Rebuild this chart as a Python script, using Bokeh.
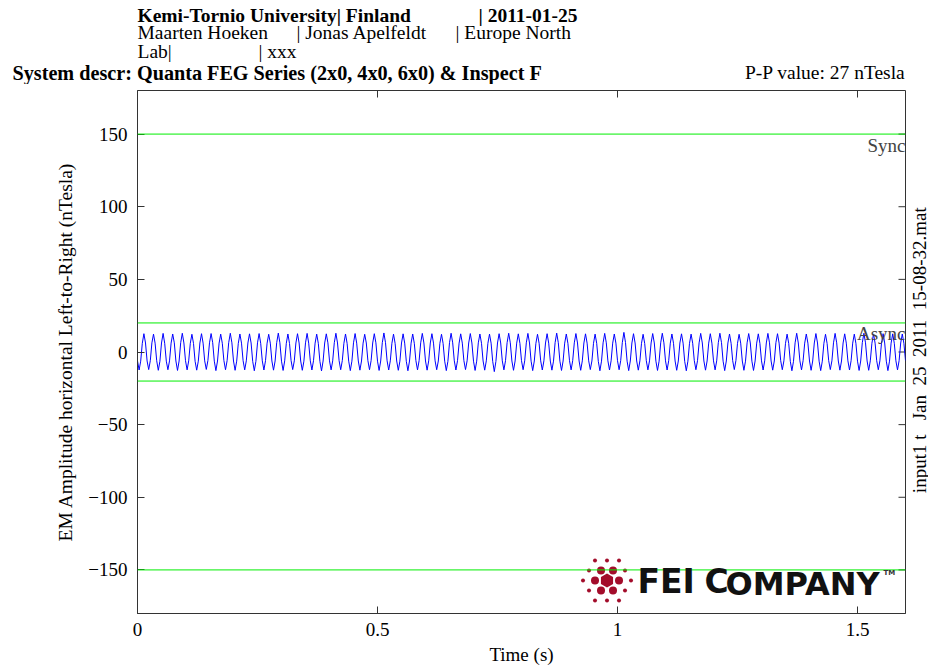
import numpy as np
from bokeh.plotting import figure
from bokeh.models import Range1d, Span, Label, FixedTicker
from bokeh.layouts import column, row
from bokeh.embed import file_html
from bokeh.resources import INLINE

# ---------------- data ----------------
fs = 300  # samples per second
signal = [
    -6.1,-12.4,-6.3,6.0,12.6,6.2, -6.2,-12.1,-6.0,6.3,12.3,6.1, -6.0,-12.6,-6.4,6.2,12.8,6.0, -6.3,-12.2,-6.1,6.1,12.4,6.3,
    -6.2,-12.7,-6.2,6.4,12.9,6.2, -6.0,-12.3,-6.1,6.0,12.2,5.9, -6.4,-12.5,-6.3,6.2,12.6,6.1, -6.1,-12.0,-5.9,6.3,12.7,6.4,
    -6.3,-12.8,-6.2,6.1,12.3,6.0, -5.9,-12.2,-6.0,6.4,12.9,6.3, -6.2,-12.6,-6.3,6.0,12.4,6.1, -6.0,-12.3,-6.1,6.2,12.5,6.2,
    -6.4,-12.9,-6.4,6.3,12.7,6.0, -6.1,-12.4,-6.0,6.1,12.2,6.1, -6.2,-12.5,-6.2,6.4,13.0,6.3, -6.3,-12.7,-6.1,6.0,12.4,5.9,
    -6.0,-12.1,-6.1,6.2,12.6,6.2, -6.2,-12.6,-6.3,6.3,12.8,6.1, -6.1,-12.4,-6.0,6.1,12.3,6.0, -6.4,-13.0,-6.2,6.2,12.5,6.3,
    -6.1,-12.3,-6.1,6.4,12.9,6.2, -6.0,-12.2,-5.9,6.0,12.4,6.0, -6.3,-12.8,-6.3,6.3,12.7,6.1, -6.2,-12.5,-6.2,6.1,12.2,6.2,
    -6.0,-12.2,-6.0,6.2,12.6,6.3, -6.3,-12.7,-6.2,6.4,13.1,6.4, -6.1,-12.4,-6.1,6.0,12.3,6.0, -6.2,-12.6,-6.3,6.2,12.5,6.1,
    -6.4,-12.9,-6.2,6.1,12.4,6.0, -6.0,-12.3,-6.0,6.3,12.8,6.2, -6.2,-12.5,-6.1,6.2,12.6,6.1, -6.1,-12.2,-6.2,6.0,12.2,5.9,
    -6.3,-12.8,-6.4,6.4,12.9,6.3, -6.1,-12.4,-6.0,6.1,12.5,6.1, -6.0,-12.1,-6.1,6.2,12.7,6.2, -6.3,-12.7,-6.3,6.3,12.4,6.0,
    -6.2,-12.5,-6.1,6.0,12.3,6.1, -6.4,-13.5,-6.5,6.2,12.6,6.2, -6.1,-12.3,-6.0,6.4,12.9,6.3, -6.2,-12.6,-6.2,6.1,12.5,6.0,
    -6.0,-12.2,-6.1,6.3,12.8,6.2, -6.3,-12.8,-6.2,6.0,12.2,6.0, -6.1,-12.4,-6.1,6.2,12.6,6.1, -6.2,-12.5,-6.3,6.4,13.0,6.4,
    -6.3,-12.7,-6.2,6.1,12.4,6.0, -6.0,-12.3,-6.0,6.3,12.7,6.2, -6.2,-12.6,-6.1,6.2,12.5,6.1, -6.1,-12.1,-6.2,6.0,12.3,6.0,
    -6.4,-12.9,-6.3,6.3,12.8,6.3, -6.1,-12.4,-6.1,6.1,12.4,6.1, -6.0,-12.2,-6.0,6.4,13.5,6.5, -6.3,-12.8,-6.2,6.2,12.6,6.2,
    -6.2,-12.5,-6.1,6.0,12.2,5.9, -6.0,-12.3,-6.1,6.2,12.7,6.2, -6.3,-12.7,-6.3,6.3,12.9,6.3, -6.1,-12.4,-6.0,6.1,12.4,6.0,
    -6.2,-12.6,-6.2,6.2,12.5,6.1, -6.4,-12.9,-6.3,6.0,12.3,6.0, -6.0,-12.2,-6.0,6.3,12.8,6.2, -6.2,-12.5,-6.2,6.1,12.6,6.1,
    -6.1,-12.3,-6.1,6.4,12.9,6.4, -6.3,-12.8,-6.2,6.2,12.4,6.0, -6.0,-12.1,-6.0,6.0,12.2,6.1, -6.2,-12.6,-6.3,6.3,12.7,6.2,
    -6.3,-12.7,-6.2,6.1,12.5,6.0, -6.1,-12.4,-6.1,6.2,12.8,6.3, -6.2,-12.5,-6.2,6.4,12.6,6.1, -6.0,-12.2,-6.1,6.0,12.3,6.0,
    -6.4,-12.9,-6.4,6.3,12.9,6.2, -6.1,-12.3,-6.0,6.1,12.4,6.1, -6.2,-12.6,-6.2,6.2,12.7,6.2, -6.3,-12.8,-6.3,6.0,12.2,5.9,
    -6.0,-12.1,-6.1,6.3,12.8,6.3, -6.2,-12.5,-6.2,6.2,12.5,6.1, -6.1,-12.4,-6.0,6.1,12.3,6.0, -6.3,-12.7,-6.2,6.4,12.9,6.3,
    -6.2,-12.6,-6.1,6.0,12.4,6.1, -6.0,-12.2,-6.1,6.2,12.6,6.2, -6.3,-12.8,-6.3,6.1,12.5,6.0, -6.1,-12.3,-6.0,6.2,12.4,6.0,
    -6.0,
]
time = np.arange(len(signal)) / fs

sync_limits = [150, -150]
async_limits = [20, -20]
x_ticks = [0, 0.5, 1, 1.5]
x_tick_labels = ["0", "0.5", "1", "1.5"]
y_ticks = [-150, -100, -50, 0, 50, 100, 150]
x_lim = (0, 1.6)
y_lim = (-180, 180)

header1 = ["Kemi-Tornio University| Finland", "| 2011-01-25"]
header2 = ["Maarten Hoeken", "| Jonas Apelfeldt", "| Europe North"]
header3 = ["Lab|", "| xxx"]
system_descr = "System descr: Quanta FEG Series (2x0, 4x0, 6x0) & Inspect F"
pp_text = "P-P value: 27 nTesla"
NB = "\u00a0"
side_text = "input1 t" + NB * 3 + "Jan" + NB * 2 + "25" + NB * 2 + "2011" + NB * 2 + "15-08-32.mat"

# ---------------- layout constants ----------------
W, H = 928, 670
HEAD_H = 84
L, R, T, B = 137, 905, 90, 613          # plot frame in page pixels
MAIN_W = R + 2
SERIF = "Liberation Serif"
FS = "19px"
HFS = "19.5px"
AX = "#333333"
GREEN = "#00ee00"

# ---------------- header strip ----------------
head = figure(width=W, height=HEAD_H, x_range=Range1d(0, W), y_range=Range1d(HEAD_H, 0),
              output_backend="svg", toolbar_location=None,
              x_axis_location=None, y_axis_location=None,
              min_border_left=0, min_border_right=0, min_border_top=0, min_border_bottom=0)
head.grid.visible = False
head.outline_line_color = None

def head_text(txt, x, y, bold=False, align="left", size=HFS):
    head.add_layout(Label(x=x, y=y, text=txt, text_font=SERIF, text_font_size=size,
                          text_font_style="bold" if bold else "normal",
                          text_align=align, text_baseline="middle", text_color="black"))

for txt, x in zip(header1, [137, 478]):
    head_text(txt, x, 15, bold=True)
for txt, x in zip(header2, [137, 296, 455]):
    head_text(txt, x, 32)
for txt, x in zip(header3, [137, 258]):
    head_text(txt, x, 51)
head_text(system_descr, 12, 72, bold=True, size="20.2px")
head_text(pp_text, R, 72, align="right")

# ---------------- main plot ----------------
p = figure(width=MAIN_W, height=H - HEAD_H, x_range=Range1d(*x_lim), y_range=Range1d(*y_lim),
           output_backend="svg", toolbar_location=None,
           min_border_left=L, min_border_right=MAIN_W - R, min_border_top=T - HEAD_H,
           min_border_bottom=H - B)
p.grid.visible = False
p.outline_line_color = AX
p.background_fill_color = "white"
p.border_fill_color = "white"

def style_axis(ax, ticks):
    ax.ticker = FixedTicker(ticks=ticks)
    ax.major_tick_in = 7
    ax.major_tick_out = 0
    ax.minor_tick_in = 0
    ax.minor_tick_out = 0
    ax.axis_line_color = AX
    ax.major_tick_line_color = AX
    ax.major_label_text_font = SERIF
    ax.major_label_text_font_size = FS
    ax.major_label_text_color = "black"
    ax.axis_label_text_font = SERIF
    ax.axis_label_text_font_size = FS
    ax.axis_label_text_font_style = "normal"
    ax.axis_label_text_color = "black"

xa = p.xaxis[0]
ya = p.yaxis[0]
style_axis(xa, x_ticks)
style_axis(ya, y_ticks)
xa.major_label_overrides = {k: v for k, v in zip(x_ticks, x_tick_labels)}
xa.major_label_standoff = 9
xa.axis_label = "Time (s)"
xa.axis_label_standoff = 5
ya.major_label_standoff = 10
ya.axis_label = "EM Amplitude horizontal Left-to-Right (nTesla)"
ya.axis_label_text_font_size = "19.5px"
ya.axis_label_standoff = 9

# mirrored inward ticks on the top and right edges of the box
p.ray(x=x_ticks, y=[y_lim[1]] * len(x_ticks), length=7, length_units="screen",
      angle=-np.pi / 2, line_color=AX, line_width=1)
p.ray(x=[x_lim[1]] * len(y_ticks), y=y_ticks, length=7, length_units="screen",
      angle=np.pi, line_color=AX, line_width=1)

for v in sync_limits + async_limits:
    p.add_layout(Span(location=v, dimension="width", line_color=GREEN, line_width=1))

p.line(time, signal, line_color="#0000ff", line_width=1)

p.add_layout(Label(x=x_lim[1], y=sync_limits[0], text="Sync", text_font=SERIF, text_font_size=FS,
                   text_align="right", text_baseline="top", y_offset=-1))
p.add_layout(Label(x=x_lim[1], y=async_limits[0], text="Async", text_font=SERIF, text_font_size=FS,
                   text_align="right", text_baseline="top", y_offset=0))

# ---------------- FEI logo (decoration) ----------------
def px_to_data(cx, cy):
    x = x_lim[0] + (cx - L) / (R - L) * (x_lim[1] - x_lim[0])
    y = y_lim[1] - (cy - T) / (B - T) * (y_lim[1] - y_lim[0])
    return x, y

logo_c = (606.5, 580)
logo_red = "#a30d2b"
small_off = [(-12, -20), (0, -20), (12, -20), (-18, -10), (18, -10), (-24, 0), (24, 0),
             (-18, 10), (18, 10), (-12, 20), (0, 20), (12, 20)]
med_off = [(-6, -10), (6, -10), (-12, 0), (12, 0), (-6, 10), (6, 10)]
for offs, size in [(small_off, 4), (med_off, 8)]:
    pts = [px_to_data(logo_c[0] + dx, logo_c[1] + dy) for dx, dy in offs]
    p.scatter([q[0] for q in pts], [q[1] for q in pts], size=size, marker="circle",
              fill_color=logo_red, line_color=None)
hx, hy = px_to_data(*logo_c)
p.scatter([hx], [hy], size=14, marker="hex", angle=np.pi / 2, fill_color=logo_red, line_color=None)

LOGO_FONT = "DejaVu Sans"
def logo_text(txt, cx, cy, size, color="#111111"):
    x, y = px_to_data(cx, cy)
    p.add_layout(Label(x=x, y=y, text=txt, text_font=LOGO_FONT, text_font_size=size,
                       text_font_style="bold", text_align="left", text_baseline="middle",
                       text_color=color))

logo_text("FEI", 637, 581, "33px")
logo_text("C", 704, 581, "33px")
logo_text("OMPANY", 725, 583, "32px")
logo_text("TM", 883, 572, "7px", color="#333333")

# ---------------- right-hand file label ----------------
side = figure(width=W - MAIN_W, height=H - HEAD_H, x_range=Range1d(MAIN_W, W),
              y_range=Range1d(H, HEAD_H), output_backend="svg", toolbar_location=None,
              x_axis_location=None, y_axis_location=None,
              min_border_left=0, min_border_right=0, min_border_top=0, min_border_bottom=0)
side.grid.visible = False
side.outline_line_color = None
side.add_layout(Label(x=918.5, y=375, text=side_text, text_font=SERIF, text_font_size=FS,
                      text_align="center", text_baseline="middle", angle=np.pi / 2,
                      text_color="black"))

layout = column(head, row(p, side))
open("out.html", "w").write(file_html(layout, INLINE))
